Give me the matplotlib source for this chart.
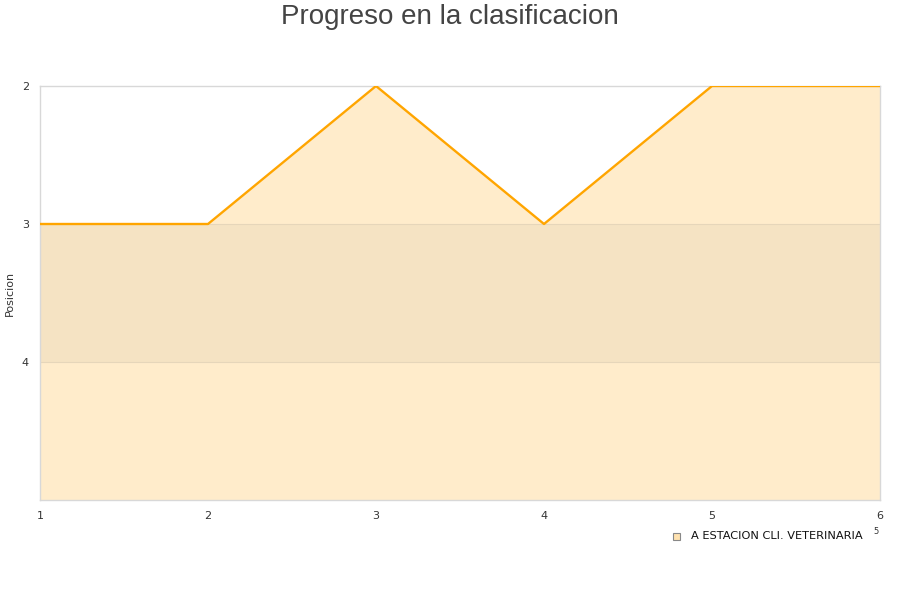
import numpy as np
import matplotlib.pyplot as plt

# Data
jornadas = [1, 2, 3, 4, 5, 6]
posicion = [3, 3, 2, 3, 2, 2]
y_ticks = [2, 3, 4]
equipo = 'A ESTACION CLI. VETERINARIA'

fig = plt.figure(figsize=(9, 6), dpi=100)
ax = fig.add_axes([40 / 900, 1 - 500 / 600, 840 / 900, 414 / 600])

# area under the line (inverted axis, so towards 5)
ax.fill_between(jornadas, posicion, 5, color='#FFECCB', zorder=1, linewidth=0)
# darker band between 3 and 4
ax.axhspan(3, 4, color='#F5E3C3', zorder=1.5, linewidth=0)
for yv in y_ticks[1:]:
    ax.axhline(yv, color='#E6D6BA', linewidth=0.8, zorder=1.6)
ax.plot(jornadas, posicion, color='#FFA500', linewidth=1.7, zorder=3)

ax.set_xlim(1, 6)
ax.set_ylim(5, 2)
ax.set_xticks(jornadas)
ax.set_yticks(y_ticks)
ax.tick_params(length=0, labelsize=8, colors='#333333')
ax.tick_params(axis='x', pad=8)
ax.tick_params(axis='y', pad=8)
for s in ax.spines.values():
    s.set_color('#D8D8D8')
    s.set_linewidth(1)

ax.set_ylabel('Posicion', fontsize=8, color='#333333')
ax.yaxis.set_label_coords(-25 / 840, 0.5)

fig.text(0.5, 1 - 17 / 600, 'Progreso en la clasificacion', ha='center', va='center',
         fontsize=20, color='#444444', family='Liberation Sans')

# legend
fig.patches.append(plt.Rectangle((673 / 900, 1 - 540 / 600), 7 / 900, 7 / 600,
                                 transform=fig.transFigure, facecolor='#FFE2B0',
                                 edgecolor='#888888', linewidth=0.8))
fig.text(691 / 900, 1 - 536 / 600, equipo, ha='left', va='center', fontsize=8.2, color='#111111')
fig.text(876 / 900, 1 - 532 / 600, '5', ha='center', va='center', fontsize=6, color='#333333')

fig.savefig('out.png', dpi=100)
